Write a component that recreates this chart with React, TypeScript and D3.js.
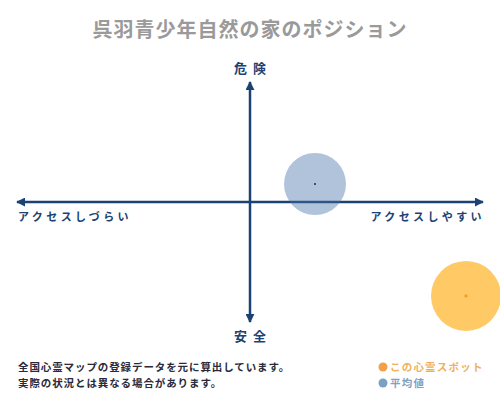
import React, { useEffect, useRef } from 'react'
import * as d3 from 'd3'

const title = "呉羽青少年自然の家のポジション"
const axisLabels = { top: "危険", bottom: "安全", left: "アクセスしづらい", right: "アクセスしやすい" }
const notes = ["全国心霊マップの登録データを元に算出しています。", "実際の状況とは異なる場合があります。"]

// series: [access, danger] on a -1..1 scale
const seriesNames = ["この心霊スポット", "平均値"]
const accessValues = [0.927, 0.279]
const dangerValues = [-0.783, 0.15]

const W = 500
const H = 400
const NAVY = "#1b4272"
const FONT = "'Noto Sans CJK JP', 'Noto Sans', sans-serif"

export default function App() {
    const svgRef = useRef<SVGSVGElement>(null)

    useEffect(() => {
        if (!svgRef.current) return
        const svg = d3.select(svgRef.current)
        svg.selectAll("*").remove()

        const x = d3.scaleLinear().domain([-1, 1]).range([17, 483])
        const y = d3.scaleLinear().domain([-1, 1]).range([322, 82])

        const defs = svg.append("defs")
        defs.append("marker")
            .attr("id", "arrow")
            .attr("viewBox", "0 0 10 10")
            .attr("refX", 9).attr("refY", 5)
            .attr("markerWidth", 3.6).attr("markerHeight", 3.6)
            .attr("markerUnits", "strokeWidth")
            .attr("orient", "auto-start-reverse")
            .append("path")
            .attr("d", "M0,0 L10,5 L0,10 z")
            .attr("fill", NAVY)

        svg.append("text")
            .attr("x", W / 2).attr("y", 37)
            .attr("text-anchor", "middle")
            .attr("font-size", 20).attr("font-weight", "bold")
            .attr("letter-spacing", 1)
            .attr("fill", "#9a9a9a")
            .attr("font-family", FONT)
            .text(title)

        // axes
        svg.append("line")
            .attr("x1", x(-1)).attr("x2", x(1))
            .attr("y1", y(0)).attr("y2", y(0))
            .attr("stroke", NAVY).attr("stroke-width", 2.5)
            .attr("marker-start", "url(#arrow)").attr("marker-end", "url(#arrow)")
        svg.append("line")
            .attr("x1", x(0)).attr("x2", x(0))
            .attr("y1", y(-1)).attr("y2", y(1))
            .attr("stroke", NAVY).attr("stroke-width", 2.5)
            .attr("marker-start", "url(#arrow)").attr("marker-end", "url(#arrow)")

        const lbl = (t: string, px: number, py: number, anchor: string, size: number, ls: number) =>
            svg.append("text")
                .attr("x", px).attr("y", py)
                .attr("text-anchor", anchor)
                .attr("font-size", size).attr("font-weight", "bold")
                .attr("letter-spacing", ls)
                .attr("fill", NAVY)
                .attr("font-family", FONT)
                .text(t)

        lbl(axisLabels.top, x(0) + 3, 73, "middle", 13, 6)
        lbl(axisLabels.bottom, x(0) + 3, 341, "middle", 13, 6)
        lbl(axisLabels.left, x(-1) + 1, 221, "start", 11, 3.4)
        lbl(axisLabels.right, x(1) + 2, 221, "end", 11, 3.4)

        // average (drawn first), then this spot
        const radii = [35, 31]
        const fills = ["rgba(255,165,0,0.6)", "rgba(70,113,168,0.42)"]
        const dotFills = ["#f0a020", "#1b2a44"]
        const order = [1, 0]
        order.forEach(i => {
            svg.append("circle")
                .attr("cx", x(accessValues[i])).attr("cy", y(dangerValues[i]))
                .attr("r", radii[i])
                .attr("fill", fills[i])
            svg.append("circle")
                .attr("cx", x(accessValues[i])).attr("cy", y(dangerValues[i]))
                .attr("r", i === 0 ? 1.6 : 1)
                .attr("fill", dotFills[i])
        })

        // notes
        notes.forEach((t, i) => {
            svg.append("text")
                .attr("x", 18).attr("y", 371 + i * 16)
                .attr("font-size", 10.5).attr("font-weight", "bold")
                .attr("letter-spacing", 0.9)
                .attr("fill", "#2a2a3a")
                .attr("font-family", FONT)
                .text(t)
        })

        // legend
        const legendColors = ["#f2a04a", "#7aa0c4"]
        const legendText = ["#f0b060", "#7fa2c4"]
        seriesNames.forEach((n, i) => {
            svg.append("circle")
                .attr("cx", 383).attr("cy", 367 + i * 16)
                .attr("r", 4.5)
                .attr("fill", legendColors[i])
            svg.append("text")
                .attr("x", 390).attr("y", 371 + i * 16)
                .attr("font-size", 10.5).attr("font-weight", "bold")
                .attr("letter-spacing", 1.2)
                .attr("fill", legendText[i])
                .attr("font-family", FONT)
                .text(n)
        })
    }, [])

    return (
        <svg ref={svgRef} width={W} height={H} viewBox={`0 0 ${W} ${H}`}
            style={{ position: "absolute", left: 0, top: 0, background: "#fff" }} />
    )
}
